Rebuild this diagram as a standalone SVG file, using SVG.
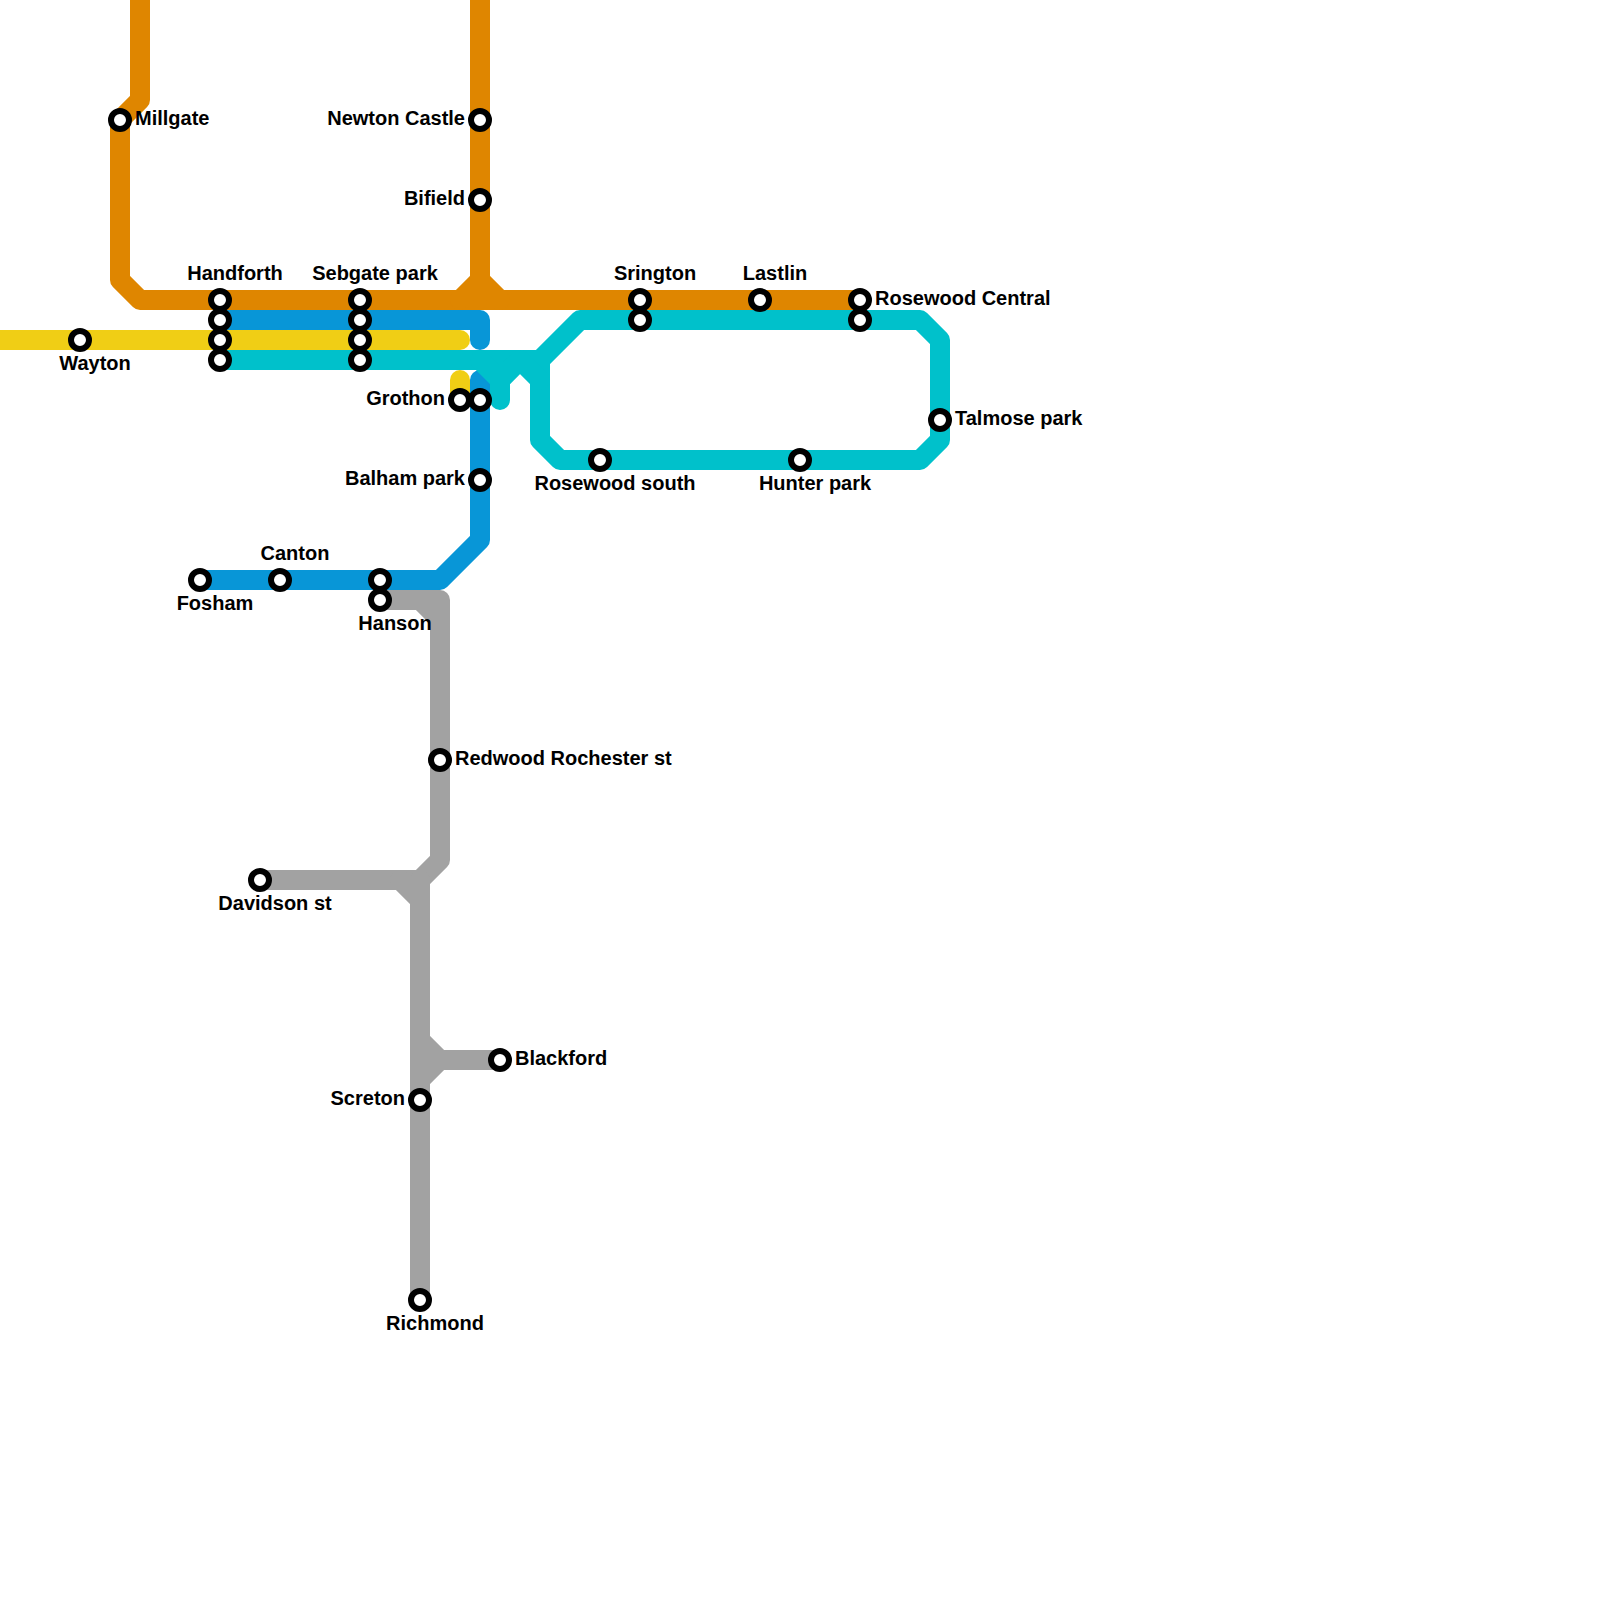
<svg xmlns="http://www.w3.org/2000/svg" width="1600" height="1600" viewBox="0 0 1600 1600">
<style>
.l{fill:none;stroke-width:20;stroke-linecap:round;stroke-linejoin:round}
.o{stroke:#df8600}.b{stroke:#0896d7}.y{stroke:#f0ce15}.c{stroke:#00c1cb}.g{stroke:#a2a2a2}
.s{fill:#fff;stroke:#000;stroke-width:6}
text{font-family:"Liberation Sans",Arial,sans-serif;font-size:20px;font-weight:700;fill:#000}
.m{text-anchor:middle}.e{text-anchor:end}
</style>
<rect width="1600" height="1600" fill="#fff"/>
<g id="connectors">
<path class="l o" d="M140-20V100L120 120V280L140 300H860"/>
<path class="l o" d="M480-20V280L460 300M480 280L500 300"/>
<path class="l b" d="M220 320H480V340"/>
<path class="l b" d="M480 380V540L440 580H200"/>
<path class="l y" d="M-20 340H460"/>
<path class="l y" d="M460 380V400"/>
<path class="l c" d="M220 360H540L580 320H920L940 340V440L920 460H560L540 440V360"/>
<path class="l c" d="M480 360L500 380V400M500 380L520 360L540 380"/>
<path class="l g" d="M380 600H440V860L420 880H260M420 600L440 620"/>
<path class="l g" d="M400 880L420 900M420 880V1300M420 1040L440 1060L420 1080M440 1060H500"/>
</g>
<g id="n-millgate"><circle class="s" cx="120" cy="120" r="9"/><text x="135" y="125">Millgate</text></g>
<g id="n-newton-castle"><circle class="s" cx="480" cy="120" r="9"/><text class="e" x="465" y="125">Newton Castle</text></g>
<g id="n-bifield"><circle class="s" cx="480" cy="200" r="9"/><text class="e" x="465" y="205">Bifield</text></g>
<g id="n-handforth"><circle class="s" cx="220" cy="300" r="9"/><circle class="s" cx="220" cy="320" r="9"/><circle class="s" cx="220" cy="340" r="9"/><circle class="s" cx="220" cy="360" r="9"/><text class="m" x="235" y="280">Handforth</text></g>
<g id="n-sebgate-park"><circle class="s" cx="360" cy="300" r="9"/><circle class="s" cx="360" cy="320" r="9"/><circle class="s" cx="360" cy="340" r="9"/><circle class="s" cx="360" cy="360" r="9"/><text class="m" x="375" y="280">Sebgate park</text></g>
<g id="n-srington"><circle class="s" cx="640" cy="300" r="9"/><circle class="s" cx="640" cy="320" r="9"/><text class="m" x="655" y="280">Srington</text></g>
<g id="n-lastlin"><circle class="s" cx="760" cy="300" r="9"/><text class="m" x="775" y="280">Lastlin</text></g>
<g id="n-rosewood-central"><circle class="s" cx="860" cy="300" r="9"/><circle class="s" cx="860" cy="320" r="9"/><text x="875" y="305">Rosewood Central</text></g>
<g id="n-wayton"><circle class="s" cx="80" cy="340" r="9"/><text class="m" x="95" y="370">Wayton</text></g>
<g id="n-grothon"><circle class="s" cx="460" cy="400" r="9"/><circle class="s" cx="480" cy="400" r="9"/><text class="e" x="445" y="405">Grothon</text></g>
<g id="n-talmose-park"><circle class="s" cx="940" cy="420" r="9"/><text x="955" y="425">Talmose park</text></g>
<g id="n-rosewood-south"><circle class="s" cx="600" cy="460" r="9"/><text class="m" x="615" y="490">Rosewood south</text></g>
<g id="n-hunter-park"><circle class="s" cx="800" cy="460" r="9"/><text class="m" x="815" y="490">Hunter park</text></g>
<g id="n-balham-park"><circle class="s" cx="480" cy="480" r="9"/><text class="e" x="465" y="485">Balham park</text></g>
<g id="n-fosham"><circle class="s" cx="200" cy="580" r="9"/><text class="m" x="215" y="610">Fosham</text></g>
<g id="n-canton"><circle class="s" cx="280" cy="580" r="9"/><text class="m" x="295" y="560">Canton</text></g>
<g id="n-hanson"><circle class="s" cx="380" cy="580" r="9"/><circle class="s" cx="380" cy="600" r="9"/><text class="m" x="395" y="630">Hanson</text></g>
<g id="n-redwood-rochester-st"><circle class="s" cx="440" cy="760" r="9"/><text x="455" y="765">Redwood Rochester st</text></g>
<g id="n-davidson-st"><circle class="s" cx="260" cy="880" r="9"/><text class="m" x="275" y="910">Davidson st</text></g>
<g id="n-blackford"><circle class="s" cx="500" cy="1060" r="9"/><text x="515" y="1065">Blackford</text></g>
<g id="n-screton"><circle class="s" cx="420" cy="1100" r="9"/><text class="e" x="405" y="1105">Screton</text></g>
<g id="n-richmond"><circle class="s" cx="420" cy="1300" r="9"/><text class="m" x="435" y="1330">Richmond</text></g>
</svg>
